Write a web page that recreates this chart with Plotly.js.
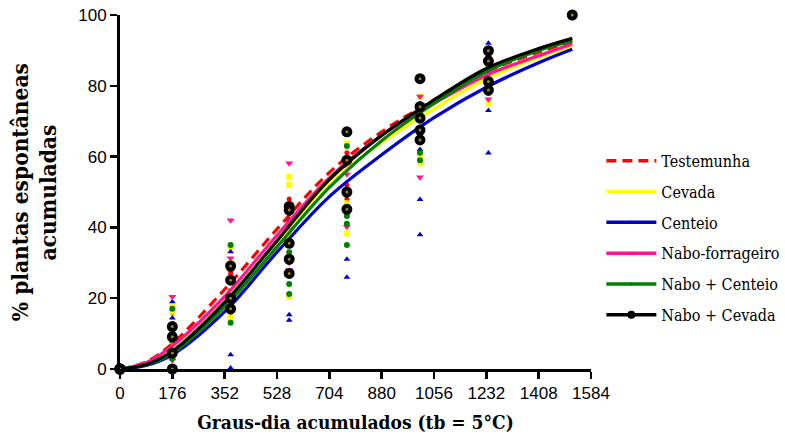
<!DOCTYPE html>
<html>
<head>
<meta charset="utf-8">
<script src="https://cdn.plot.ly/plotly-3.0.1.min.js"></script>
<style>html,body{margin:0;padding:0;background:#fff;}#chart{width:785px;height:445px;}</style>
</head>
<body>
<div id="chart"></div>
<script>
// ---- data ----
const seriesNames = ["Testemunha", "Cevada", "Centeio", "Nabo-forrageiro", "Nabo + Centeio", "Nabo + Cevada"];
const xTicks = [0, 176, 352, 528, 704, 880, 1056, 1232, 1408, 1584];
const yTicks = [0, 20, 40, 60, 80, 100];

// observation times (graus-dia)
const obsX = [0, 176, 372, 569, 763, 1009, 1239, 1521];

// observed values per time (replicates)
const testemunhaObs = [[0,0,0,0],[15.8,12,9,6],[30,27,21,17],[48,44,38,33],[61.1,57,52,48],[75,70,66],[86,83,80],[100]];
const cevadaObs     = [[0,0,0,0],[17.6,16.2,8,4],[34.5,30,16,14.3],[54.2,52,38,20.4],[63.7,46.8,38.3,50],[77,60,58.1],[88,80,75],[100]];
const centeioObs    = [[0,0,0,0],[19,14.4,8,3],[33.1,28,4,0.3],[42.1,36,15.3,13.8],[31,25.9,50,45],[67,47.9,37.9,62],[92,73,61,84],[100]];
const naboObs       = [[0,0,0,0],[20.4,10,5,2.5],[42,31.3,20,16],[58.1,40,30,28],[40.2,55,50],[77,54.2,66],[88,76.2,80],[100]];
const naboCentObs   = [[0,0,0,0],[17,12,8,3],[35,29,22,13.1],[41.2,33,24,21.2],[63,43.2,41,35],[72,61.1,59,68],[86,82,78],[100]];
const naboCevObs    = [[0,0,0,0],[12,9.1,4.5,0],[29.1,25.1,20,17],[45.9,44.9,35.5,31,27],[67,59,50,45.1],[82,74.1,70.9,67.5,64.7],[89.9,87,81.2,78.8],[100]];

// fitted curves
const fitX = [0, 88, 176, 352, 528, 704, 880, 1056, 1232, 1408, 1521];
const testemunhaFit = [0, 2.0, 7.2, 22.5, 39.5, 55.5, 67.0, 76.0, 84.0, 89.5, 92.5];
const cevadaFit     = [0, 1.5, 5.5, 19.5, 36.0, 52.4, 64.0, 73.5, 82.0, 88.0, 91.2];
const centeioFit    = [0, 1.0, 4.0, 16.2, 33.0, 48.7, 60.5, 71.0, 79.6, 86.5, 90.3];
const naboFit       = [0, 1.8, 6.5, 20.5, 37.8, 54.0, 66.0, 75.0, 83.0, 88.5, 91.8];
const naboCentFit   = [0, 1.2, 4.5, 17.6, 34.5, 51.3, 64.5, 75.0, 84.0, 90.0, 92.7];
const naboCevFit    = [0, 1.3, 5.0, 18.8, 36.2, 53.5, 66.0, 76.0, 84.9, 90.5, 93.4];

// ---- styles ----
const SERIF = "DejaVu Serif Condensed, DejaVu Serif";
const SANS = "Liberation Sans";
const colors = ["#ff0000", "#ffff00", "#0000cc", "#ff1493", "#008000", "#000000"];
const obsAll = [testemunhaObs, cevadaObs, centeioObs, naboObs, naboCentObs, naboCevObs];
const fitAll = [testemunhaFit, cevadaFit, centeioFit, naboFit, naboCentFit, naboCevFit];
const markers = [
  {symbol: "circle", size: 5, color: colors[0]},
  {symbol: "square", size: 6, color: colors[1]},
  {symbol: "triangle-up", size: 6, color: colors[2]},
  {symbol: "triangle-down", size: 7, color: colors[3]},
  {symbol: "circle", size: 6, color: colors[4]},
  {symbol: "circle", size: 7, color: "#9a8c00", line: {color: "#000", width: 4}}
];

function flat(groups) {
  const xs = [], ys = [];
  groups.forEach((g, i) => g.forEach(v => { xs.push(obsX[i]); ys.push(v); }));
  return {xs, ys};
}

const traces = [];
for (let i = 0; i < 5; i++) {
  const f = flat(obsAll[i]);
  traces.push({x: f.xs, y: f.ys, type: "scatter", mode: "markers", marker: markers[i],
    showlegend: false, cliponaxis: false, hoverinfo: "skip"});
}
for (let i = 0; i < 6; i++) {
  traces.push({x: fitX, y: fitAll[i], type: "scatter", mode: "lines",
    line: {color: colors[i], width: 3.2, shape: "spline", dash: i === 0 ? "10px,6px" : "solid"},
    showlegend: false, cliponaxis: false, hoverinfo: "skip"});
}
{
  const f = flat(obsAll[5]);
  traces.push({x: f.xs, y: f.ys, type: "scatter", mode: "markers", marker: markers[5],
    showlegend: false, cliponaxis: false, hoverinfo: "skip"});
}
for (let i = 0; i < 6; i++) {
  traces.push({x: [null], y: [null], type: "scatter", mode: i === 0 ? "lines" : "lines+markers",
    name: seriesNames[i], legendgroup: "g" + i,
    line: {color: colors[i], width: 3.5, dash: i === 0 ? "10px,6px" : "solid"},
    marker: i === 5 ? {symbol: "circle", size: 8, color: "#000"} : {symbol: "square", size: 3, color: colors[i]}});
}

const axisCommon = {
  showline: true, linewidth: 3, linecolor: "#000", ticks: "outside", ticklen: 7, tickwidth: 2.5,
  tickcolor: "#000", showgrid: false, zeroline: false,
  tickfont: {family: SANS, size: 17, color: "#000"}
};

const layout = {
  width: 785, height: 445,
  margin: {l: 120, r: 194, t: 15, b: 76, autoexpand: false},
  paper_bgcolor: "#fff", plot_bgcolor: "#fff",
  showlegend: true,
  legend: {x: 1.022, xanchor: "left", y: 0.636, yanchor: "top", tracegroupgap: 7,
    traceorder: "grouped", itemwidth: 50,
    font: {family: SERIF, size: 16, color: "#000"}},
  xaxis: Object.assign({}, axisCommon, {range: [0, 1584], tickvals: xTicks, ticktext: xTicks.map(String),
    title: {text: "<b>Graus-dia acumulados (tb = 5°C)</b>", standoff: 14,
      font: {family: SERIF, size: 19, color: "#000"}}}),
  yaxis: Object.assign({}, axisCommon, {range: [0, 100], tickvals: yTicks, ticktext: yTicks.map(String)}),
  annotations: [
    {text: "<b>% plantas espontâneas</b>", xref: "paper", yref: "paper", x: -0.212, y: 0.5,
      xanchor: "center", yanchor: "middle", textangle: -90, showarrow: false,
      font: {family: SERIF, size: 22.5, color: "#000"}},
    {text: "<b>acumuladas</b>", xref: "paper", yref: "paper", x: -0.152, y: 0.5,
      xanchor: "center", yanchor: "middle", textangle: -90, showarrow: false,
      font: {family: SERIF, size: 22.5, color: "#000"}}
  ]
};

Plotly.newPlot("chart", traces, layout, {displayModeBar: false, staticPlot: true});
</script>
</body>
</html>
